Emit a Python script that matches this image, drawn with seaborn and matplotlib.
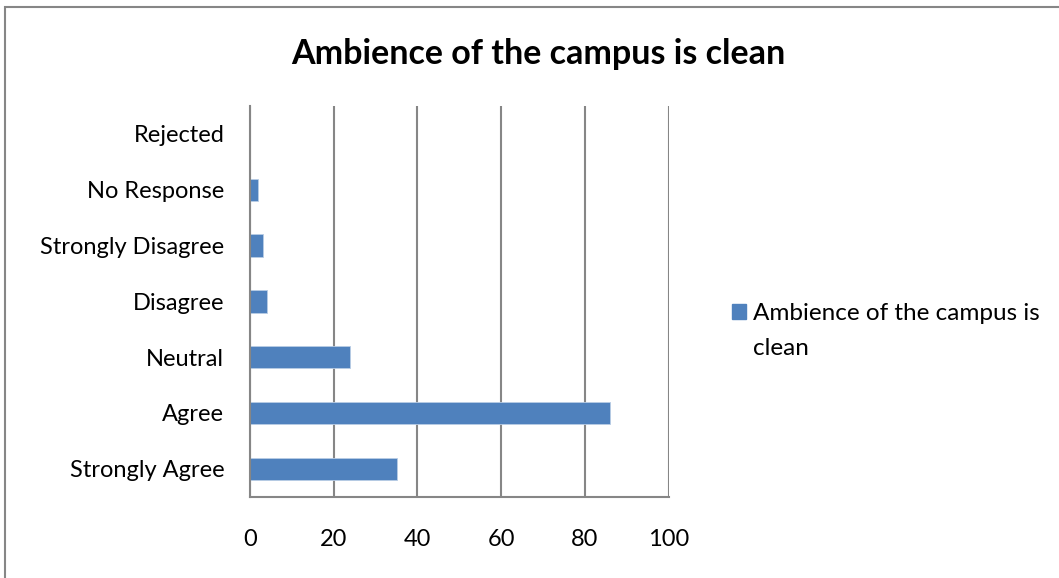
import numpy as np
import pandas as pd
import matplotlib
matplotlib.use("Agg")
import matplotlib.pyplot as plt
import seaborn as sns
from matplotlib.patches import Rectangle, Patch

categories = ["Rejected", "No Response", "Strongly Disagree", "Disagree",
              "Neutral", "Agree", "Strongly Agree"]
counts = [0, 2, 3, 4, 24, 86, 35]
series_name = "Ambience of the campus is clean"
xticks = [0, 20, 40, 60, 80, 100]

df = pd.DataFrame({"Response": categories, "Count": counts})

sns.set_style("white")
plt.rcParams["font.family"] = ["Lato", "DejaVu Sans"]
plt.rcParams["text.color"] = "black"

fig = plt.figure(figsize=(10.59, 5.78), dpi=100)
ax = fig.add_axes([0.2361, 0.1407, 0.3953, 0.6759])

bar_color = "#4F81BD"
sns.barplot(data=df, x="Count", y="Response", order=categories, color=bar_color,
            width=0.4, saturation=1, edgecolor="#B9CDE5", linewidth=0.6, ax=ax)

ax.set_xlim(0, 100)
ax.set_xticks(xticks)
ax.set_xlabel("")
ax.set_ylabel("")
ax.tick_params(axis="x", length=0, pad=23, labelsize=17, labelcolor="black")
ax.tick_params(axis="y", length=0, pad=18.5, labelsize=17, labelcolor="black")

# vertical grid lines
ax.grid(axis="x", color="#868686", linewidth=1.5)
ax.set_axisbelow(True)
for side in ["top", "right"]:
    ax.spines[side].set_visible(False)
for side in ["left", "bottom"]:
    ax.spines[side].set_color("#868686")
    ax.spines[side].set_linewidth(1.5)

fig.text(0.508, 0.907, series_name, ha="center", va="center",
         fontsize=24.5, fontweight="bold", color="black")

# legend, label wraps onto a second line like the original
handle = Patch(facecolor=bar_color, edgecolor=bar_color)
leg = fig.legend([handle], ["Ambience of the campus is"], loc="upper left",
                 bbox_to_anchor=(0.691, 0.475), frameon=False, fontsize=17.5,
                 handlelength=0.58, handleheight=0.58, handletextpad=0.3,
                 borderpad=0, borderaxespad=0)
fig.canvas.draw()
bb = leg.get_texts()[0].get_window_extent()
fig.text(bb.x0 / fig.bbox.width, (bb.y0 - 35) / fig.bbox.height, "clean",
         ha="left", va="bottom", fontsize=17.5, color="black")

# outer chart border
fig.patches.append(Rectangle((5 / 1059, -0.05), 1.2, (578 - 7) / 578 + 0.05,
                             transform=fig.transFigure, fill=False,
                             edgecolor="#868686", linewidth=1.5))

fig.savefig("out.png", dpi=100)
